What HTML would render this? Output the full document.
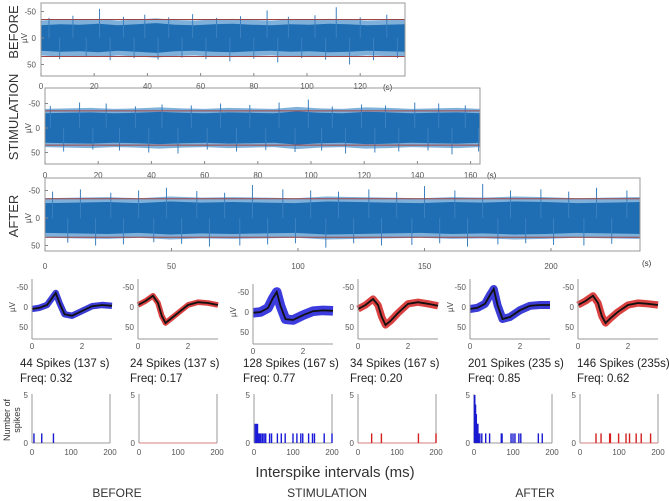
<!DOCTYPE html>
<html><head><meta charset="utf-8"><style>
body{margin:0;background:#fff}
svg{display:block;font-family:"Liberation Sans",sans-serif}
</style></head><body>
<svg id="fig" width="669" height="501" viewBox="0 0 669 501" xmlns="http://www.w3.org/2000/svg">
<rect width="669" height="501" fill="#fff"/>
<g id="g"></g>
</svg>
<script>
// ---- trace data (µV, seconds) ----
const beforeEnvelope = [24,26,25,27,24,26,28,25,24,26,27,25,24,26,25,27,26,24,25,26];
const stimEnvelope = [30,31,32,30,31,33,31,30,32,31,30,34,31,30,33,32,30,31,32,30];
const afterEnvelope = [27,28,29,27,30,28,29,28,27,30,29,28,27,29,28,30,29,27,28,29];
const beforeSpikeTimes = [3,7,12,17,22,26,31,35,39,44,48,53,57,62,66,71,75,80,85,89,93,98,103,107,111,116,120,125,130,134];
const beforeSpikeAmps = [-38,40,-42,36,-55,42,-40,38,-44,41,-39,37,-45,40,-38,44,-41,39,-52,46,-40,38,-43,41,-58,50,-39,42,-44,38];
const stimSpikeTimes = [2,7,13,18,23,28,34,39,44,50,55,61,66,72,77,83,88,94,99,104,108,113,119,124,128,133,139,144,148,153,158,163];
const stimSpikeAmps = [-45,48,-52,44,-50,46,-44,50,-48,52,-46,44,-50,48,-47,45,-52,49,-58,46,-44,52,-48,50,-46,48,-52,46,-50,54,-46,48];
const afterSpikeTimes = [3,9,14,20,26,31,37,43,48,54,60,65,71,77,82,88,94,99,105,111,116,122,128,133,139,145,150,156,162,167,173,179,184,190,196,201,207,213,218,224,230];
const afterSpikeAmps = [-48,45,-52,50,-46,48,-50,44,-55,47,-49,52,-46,50,-60,48,-52,46,-50,54,-48,46,-52,50,-47,49,-58,46,-50,52,-62,48,-50,46,-52,49,-48,50,-55,47,-50];
const xTicksBefore = [0,20,40,60,80,100,120];
const xTicksStim = [0,20,40,60,80,100,120,140,160];
const xTicksAfter = [0,50,100,150,200];
const yTicks = [-50,0,50];
// ---- spike waveform data (ms, µV) ----
const waveTimes = [0,0.3,0.6,0.8,0.95,1.1,1.3,1.6,2.0,2.4,2.8,3.2];
const waveMeans = [
 [5,2,-5,-22,-35,-10,18,22,10,-2,-5,-3],
 [-5,-15,-28,-10,22,40,30,15,-5,-12,-10,-5],
 [2,0,-10,-35,-50,-15,18,20,8,-2,-4,-3],
 [5,-5,-20,-5,25,45,35,15,-8,-12,-8,-3],
 [5,2,-8,-30,-45,-5,30,25,8,-3,-5,-5],
 [-5,-15,-28,-10,22,40,28,12,-5,-10,-8,-5]
];
const waveSpread = [8,7,12,9,10,9];
const waveColors = ["#1a1ad0","#d42020","#1a1ad8","#d42020","#1a1ad0","#d42020"];
const spikeCounts = [44,24,128,34,201,146];
const recordDur = ["137 s","137 s","167 s","167 s","235 s","235s"];
const freqs = ["0.32","0.17","0.77","0.20","0.85","0.62"];
// ---- ISI histogram data (ms, counts) ----
const isiBins = [
 [5,25,55],
 [],
 [3,6,9,12,15,18,22,26,30,40,45,60,70,80,100,110,120,125,140,150,155,180,200],
 [35,60,155,200],
 [1,2,3,4,5,6,7,8,10,12,15,20,30,40,70,72,95,100,105,115,120,165,175],
 [41,54,76,78,99,118,127,144,157,181]
];
const isiCounts = [
 [1,1,1],
 [],
 [2,2,2,1,1,1,1,1,1,1,1,1,1,1,1,1,1,1,1,1,1,1,1],
 [1,1,1,1],
 [5,5,4,4,3,3,2,2,2,1,1,1,1,1,1,1,1,1,1,1,1,1,1],
 [1,1,1,1,1,1,1,1,1,1]
];
const histTicks = [0,100,200];

const NS="http://www.w3.org/2000/svg";
const G=document.getElementById('g');
function mk(tag,attrs,parent){const e=document.createElementNS(NS,tag);for(const k in attrs)e.setAttribute(k,attrs[k]);(parent||G).appendChild(e);return e;}
function txt(s,x,y,size,anchor,parent,fill){const t=mk('text',{x:x,y:y,'font-size':size,'text-anchor':anchor||'start',fill:fill||'#333'},parent);t.textContent=s;return t;}

const traces=[
 {name:'before',x0:41,px:2.66,y0:38,k:0.53,x1:405,top:3,bot:76,dur:137,env:beforeEnvelope,st:beforeSpikeTimes,sa:beforeSpikeAmps,ticks:xTicksBefore,tickY:89,unitX:383,unitY:90,label:'BEFORE',lx:18,ly:32},
 {name:'stimulation',x0:45,px:2.66,y0:128,k:0.49,x1:480,top:88,bot:164,dur:163.5,env:stimEnvelope,st:stimSpikeTimes,sa:stimSpikeAmps,ticks:xTicksStim,tickY:178,unitX:487,unitY:178,label:'STIMULATION',lx:18,ly:117},
 {name:'after',x0:45,px:2.53,y0:218,k:0.55,x1:640,top:178,bot:251,dur:235,env:afterEnvelope,st:afterSpikeTimes,sa:afterSpikeAmps,ticks:xTicksAfter,tickY:269,unitX:642,unitY:266,label:'AFTER',lx:18,ly:216}
];
traces.forEach(p=>{
 const g=mk('g',{});
 
 
 const X=t=>Math.min(p.x1,p.x0+t*p.px), Y=v=>p.y0+v*p.k;
 let up=[],dn=[],up2=[],dn2=[];const n=p.env.length;
 p.env.forEach((a,i)=>{const t=p.dur*i/(n-1);up.push(X(t)+','+Y(-a));dn.unshift(X(t)+','+Y(a));up2.push(X(t)+','+Y(-a-9));dn2.unshift(X(t)+','+Y(a+9));});
 const halo=mk('polygon',{points:up2.concat(dn2).join(' '),fill:'#7fb0da'},g);
 
 
 const band=mk('polygon',{points:up.concat(dn).join(' '),fill:'#1f6db3'},g);
 
 
 p.st.forEach((t,i)=>{
  const l=mk('line',{x1:X(t),x2:X(t),y1:Y(0),y2:Y(p.sa[i]),stroke:'#3a80c0','stroke-width':1},g);
  
  
 });
 [-35,35].forEach(v=>{const l=mk('line',{x1:p.x0,x2:p.x1,y1:Y(v),y2:Y(v),stroke:'#a04545','stroke-width':1},g);
  
  });
 mk('rect',{x:p.x0,y:p.top,width:p.x1-p.x0,height:p.bot-p.top,fill:'none',stroke:'#999','stroke-width':1},g);
 yTicks.forEach(v=>{txt(String(v),p.x0-5,Y(v)+3,8,'end',g,'#555');mk('line',{x1:p.x0,x2:p.x0+3,y1:Y(v),y2:Y(v),stroke:'#888'},g);});
 p.ticks.forEach(t=>{txt(String(t),X(t),p.tickY,8,'middle',g,'#555');mk('line',{x1:X(t),x2:X(t),y1:p.bot,y2:p.bot-3,stroke:'#888'},g);});
 txt('(s)',p.unitX,p.unitY,8,'start',g,'#333');
 const yl=txt('µV',p.x0-18,p.y0+4,8,'middle',g,'#444');yl.setAttribute('transform','rotate(-90 '+(p.x0-18)+' '+p.y0+')');
 const lab=txt(p.label,p.lx,p.ly,13,'middle',g,'#333');lab.setAttribute('transform','rotate(-90 '+p.lx+' '+p.ly+')');
});

const colX=[32,138,253,358,470,578], colY0=[307,307,312,307,307,307];
const textX=[20,130,243,350,468,577];
const histX=[32,139,254,358,474,580];
for(let c=0;c<6;c++){
 const g=mk('g',{});
 
 
 const x0=colX[c], y0=colY0[c], kx=25, ky=0.4;
 const X=t=>x0+t*kx, Y=v=>y0+v*ky;
 const pts=waveTimes.map((t,i)=>X(t)+','+Y(waveMeans[c][i])).join(' ');
 const w=mk('polyline',{points:pts,fill:'none',stroke:waveColors[c],'stroke-width':waveSpread[c]*ky*2,'stroke-linejoin':'round','stroke-linecap':'butt',opacity:0.85},g);
 
 
 const m=mk('polyline',{points:pts,fill:'none',stroke:'#111','stroke-width':1.8},g);
 
 
 mk('line',{x1:x0,x2:x0,y1:y0-28,y2:y0+32,stroke:'#999'},g);
 mk('line',{x1:x0,x2:x0+80,y1:y0+32,y2:y0+32,stroke:'#999'},g);
 yTicks.forEach(v=>txt(String(v),x0-4,Y(v)+3,8,'end',g,'#555'));
 [0,2].forEach(t=>txt(String(t),X(t),y0+42,8,'middle',g,'#555'));
 if(c==0||c==2||c==4){const u=txt('µV',x0-20,y0+3,8,'middle',g,'#444');u.setAttribute('transform','rotate(-90 '+(x0-20)+' '+y0+')');}
 const t1=txt(spikeCounts[c]+' Spikes ('+recordDur[c]+')',textX[c],367,11.5,'start',g,'#222');
 
 
 const t2=txt('Freq: '+freqs[c],textX[c],382,11.5,'start',g,'#222');
 
 
 const hx0=histX[c], hy0=443, hkx=0.39, hky=9.6;
 const HX=v=>hx0+v*hkx, HY=v=>hy0-v*hky;
 mk('line',{x1:hx0,x2:hx0,y1:HY(5.1),y2:hy0,stroke:'#999'},g);
 mk('line',{x1:HX(200),x2:HX(200),y1:HY(5.1),y2:hy0,stroke:'#999'},g);
 mk('line',{x1:hx0,x2:HX(200),y1:hy0,y2:hy0,stroke:c%2?'#d08080':'#999'},g);
 txt('5',hx0-4,HY(5)+3,8,'end',g,'#555');txt('0',hx0-4,hy0+3,8,'end',g,'#555');
 histTicks.forEach(t=>txt(String(t),HX(t),hy0+12,8,'middle',g,'#555'));
 isiBins[c].forEach((b,i)=>{
  const r=mk('rect',{x:HX(b)-0.7,y:HY(isiCounts[c][i]),width:1.4,height:isiCounts[c][i]*hky,fill:waveColors[c]},g);
  
  
 });
}
const ns=txt('Number of',10,420,9,'middle',G,'#333');ns.setAttribute('transform','rotate(-90 10 420)');
const ns2=txt('spikes',20,420,9,'middle',G,'#333');ns2.setAttribute('transform','rotate(-90 20 420)');
const xt=txt('Interspike intervals (ms)',335,477,15,'middle',G,'#333');


[['BEFORE',117],['STIMULATION',327],['AFTER',535]].forEach(([s,x])=>{const t=txt(s,x,497,12,'middle',G,'#333');
 
 });
</script>
</body></html>
